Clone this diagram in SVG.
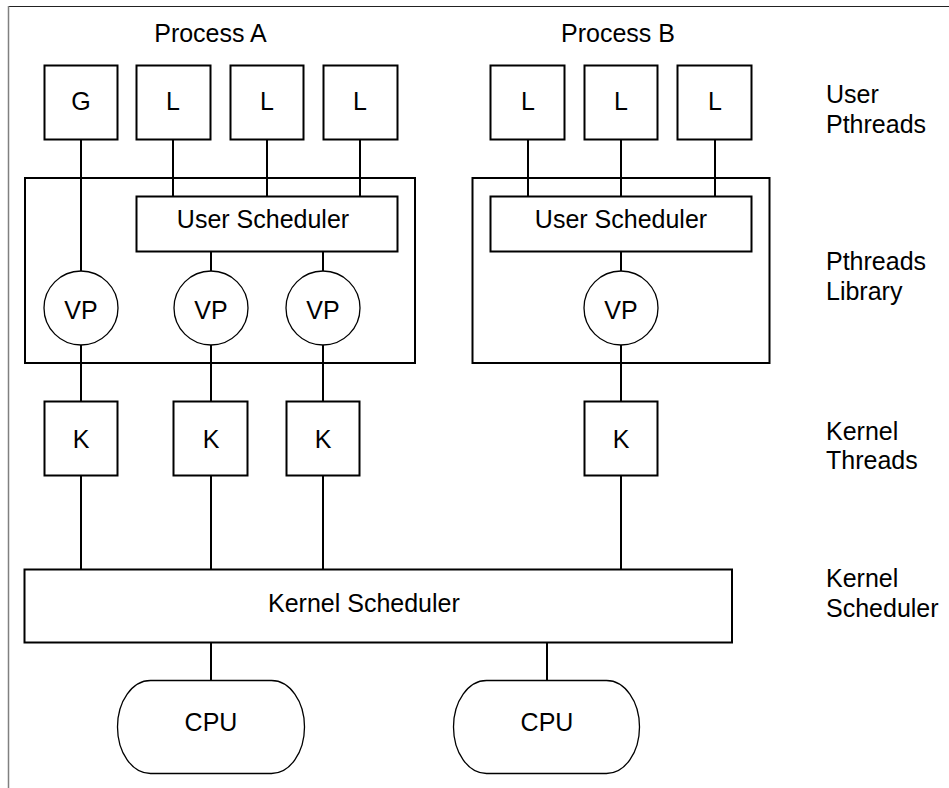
<svg xmlns="http://www.w3.org/2000/svg" width="949" height="788" viewBox="0 0 949 788">
<style>
.box{fill:#fff;stroke:#000;stroke-width:2}
.frame{fill:none;stroke:#000;stroke-width:2}
.thin{fill:#fff;stroke:#000;stroke-width:1.3}
.conn line{stroke:#000;stroke-width:2}
text{font-family:"Liberation Sans",Arial,sans-serif;font-size:25px;fill:#000}
.c{text-anchor:middle}
</style>
<rect width="949" height="788" fill="#fff"/>
<g id="border">
<line x1="8" y1="6.5" x2="949" y2="6.5" stroke="#222" stroke-width="1.2"/>
<line x1="8.5" y1="6" x2="8.5" y2="788" stroke="#808080" stroke-width="1.5"/>
</g>
<g id="labels">
<text class="c" x="210.5" y="42">Process A</text>
<text class="c" x="618" y="42">Process B</text>
<text x="826" y="103">User</text>
<text x="826" y="133">Pthreads</text>
<text x="826" y="270">Pthreads</text>
<text x="826" y="300">Library</text>
<text x="826" y="440">Kernel</text>
<text x="826" y="469">Threads</text>
<text x="826" y="587">Kernel</text>
<text x="826" y="617">Scheduler</text>
</g>
<g id="libA"><rect class="frame" x="25" y="178" width="390" height="185"/></g>
<g id="libB"><rect class="frame" x="472.5" y="178" width="297" height="185"/></g>
<g class="conn" id="connectors">
<line x1="81" y1="140" x2="81" y2="271"/>
<line x1="173" y1="140" x2="173" y2="196"/>
<line x1="267" y1="140" x2="267" y2="196"/>
<line x1="360" y1="140" x2="360" y2="196"/>
<line x1="211" y1="251" x2="211" y2="271"/>
<line x1="323" y1="251" x2="323" y2="271"/>
<line x1="81" y1="345" x2="81" y2="401"/>
<line x1="211" y1="345" x2="211" y2="401"/>
<line x1="323" y1="345" x2="323" y2="401"/>
<line x1="81" y1="476" x2="81" y2="569"/>
<line x1="211" y1="476" x2="211" y2="569"/>
<line x1="323" y1="476" x2="323" y2="569"/>
<line x1="528" y1="140" x2="528" y2="196"/>
<line x1="621" y1="140" x2="621" y2="196"/>
<line x1="715" y1="140" x2="715" y2="196"/>
<line x1="621" y1="251" x2="621" y2="271"/>
<line x1="621" y1="345" x2="621" y2="401"/>
<line x1="621" y1="476" x2="621" y2="569"/>
<line x1="211" y1="642" x2="211" y2="681"/>
<line x1="547" y1="642" x2="547" y2="681"/>
</g>
<g id="G"><rect class="box" x="44.5" y="65.5" width="73" height="74"/><text class="c" x="81" y="110">G</text></g>
<g id="LA1"><rect class="box" x="136.5" y="65.5" width="74" height="74"/><text class="c" x="173" y="110">L</text></g>
<g id="LA2"><rect class="box" x="230.5" y="65.5" width="73" height="74"/><text class="c" x="267" y="110">L</text></g>
<g id="LA3"><rect class="box" x="323.5" y="65.5" width="74" height="74"/><text class="c" x="360" y="110">L</text></g>
<g id="LB1"><rect class="box" x="490.5" y="65.5" width="74" height="74"/><text class="c" x="528" y="110">L</text></g>
<g id="LB2"><rect class="box" x="584.5" y="65.5" width="73" height="74"/><text class="c" x="621" y="110">L</text></g>
<g id="LB3"><rect class="box" x="677.5" y="65.5" width="74" height="74"/><text class="c" x="715" y="110">L</text></g>
<g id="usA"><rect class="box" x="136.5" y="196.5" width="261" height="55"/><text class="c" x="263" y="228">User Scheduler</text></g>
<g id="usB"><rect class="box" x="490.5" y="196.5" width="261" height="55"/><text class="c" x="621" y="228">User Scheduler</text></g>
<g id="VPA1"><circle class="thin" cx="81" cy="308" r="37"/><text class="c" x="81" y="319">VP</text></g>
<g id="VPA2"><circle class="thin" cx="211" cy="308" r="37"/><text class="c" x="211" y="319">VP</text></g>
<g id="VPA3"><circle class="thin" cx="323" cy="308" r="37"/><text class="c" x="323" y="319">VP</text></g>
<g id="VPB"><circle class="thin" cx="621" cy="308" r="37"/><text class="c" x="621" y="319">VP</text></g>
<g id="K1"><rect class="box" x="44.5" y="401.5" width="73" height="74"/><text class="c" x="81" y="448">K</text></g>
<g id="K2"><rect class="box" x="173.5" y="401.5" width="74" height="74"/><text class="c" x="211" y="448">K</text></g>
<g id="K3"><rect class="box" x="286.5" y="401.5" width="73" height="74"/><text class="c" x="323" y="448">K</text></g>
<g id="K4"><rect class="box" x="584.5" y="401.5" width="73" height="74"/><text class="c" x="621" y="448">K</text></g>
<g id="ks"><rect class="box" x="24.5" y="569.5" width="707.5" height="73"/><text x="268" y="612">Kernel Scheduler</text></g>
<g id="cpu1"><rect class="thin" x="117.5" y="680.5" width="187" height="93" rx="33" ry="46.5"/><text class="c" x="211" y="731">CPU</text></g>
<g id="cpu2"><rect class="thin" x="453.5" y="680.5" width="186" height="93" rx="33" ry="46.5"/><text class="c" x="547" y="731">CPU</text></g>
</svg>
